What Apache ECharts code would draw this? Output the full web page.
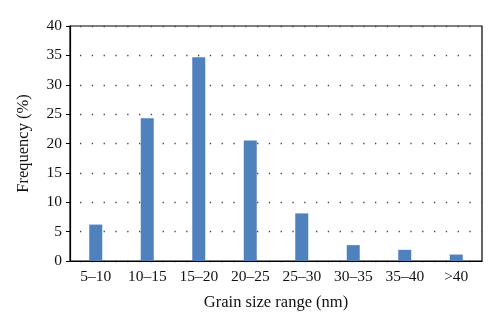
<!DOCTYPE html>
<html><head><meta charset="utf-8">
<script src="https://cdn.jsdelivr.net/npm/echarts@6/dist/echarts.min.js"></script>
<style>html,body{margin:0;padding:0;background:#fff}#c{width:500px;height:328px}</style>
</head><body><div id="c"></div>
<script>
const categories = ['5–10','10–15','15–20','20–25','25–30','30–35','35–40','>40'];
const frequency = [6.2, 24.3, 34.7, 20.5, 8.1, 2.7, 1.9, 1.1];
const yTicks = {min: 0, max: 40, interval: 5};
const font = 'Liberation Serif, DejaVu Serif, serif';
const chart = echarts.init(document.getElementById('c'));
chart.setOption({
  animation: false,
  grid: {left: 70, right: 18, top: 26, bottom: 67, show: true, borderColor: '#000', borderWidth: 1.2, backgroundColor: 'transparent'},
  xAxis: {
    type: 'category', data: categories,
    name: 'Grain size range (nm)', nameLocation: 'middle', nameGap: 33,
    nameTextStyle: {fontFamily: font, fontSize: 16.5, color: '#111'},
    axisLine: {lineStyle: {color: '#000', width: 1.2}},
    axisTick: {show: false},
    axisLabel: {fontFamily: font, fontSize: 15.5, color: '#111', margin: 8, interval: 0}
  },
  yAxis: {
    type: 'value', min: yTicks.min, max: yTicks.max, interval: yTicks.interval,
    name: 'Frequency (%)', nameLocation: 'middle', nameGap: 38,
    nameTextStyle: {fontFamily: font, fontSize: 16.5, color: '#111'},
    axisLine: {show: true, lineStyle: {color: '#000', width: 1.2}},
    axisTick: {show: true, length: 4, lineStyle: {color: '#000'}},
    axisLabel: {fontFamily: font, fontSize: 15.5, color: '#111', margin: 8},
    splitLine: {show: true, lineStyle: {color: '#444', type: [1.3, 10.5], width: 1.3, dashOffset: -10}}
  },
  series: [{
    type: 'bar', data: frequency, barWidth: 13,
    itemStyle: {color: '#4f81bd'}
  }]
});
</script></body></html>
